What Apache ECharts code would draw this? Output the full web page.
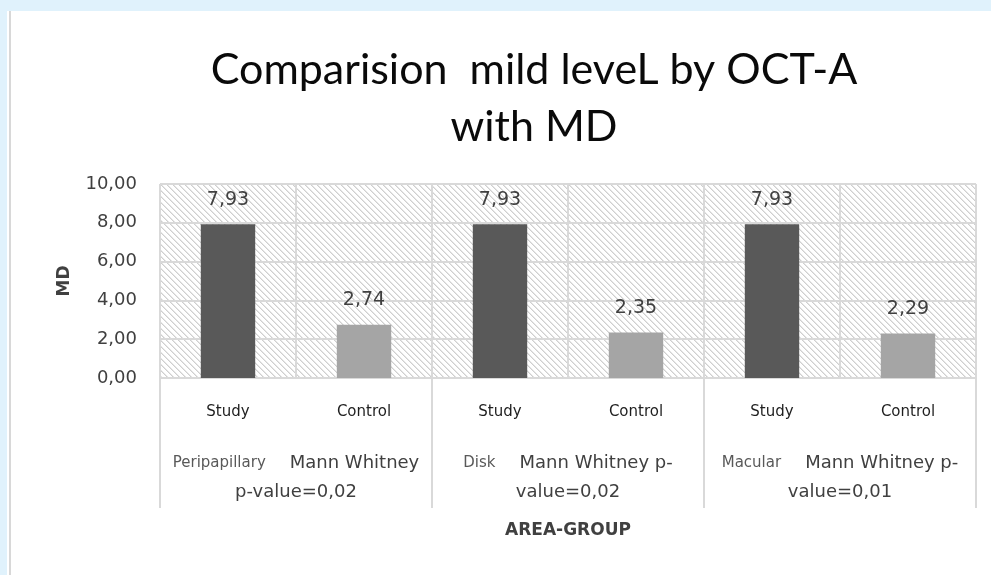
<!DOCTYPE html>
<html>
<head>
<meta charset="utf-8">
<script src="https://cdn.jsdelivr.net/npm/echarts@6/dist/echarts.min.js"></script>
<style>
  html, body { margin: 0; padding: 0; width: 991px; height: 575px; overflow: hidden; background: #e0f2fc; }
  #panel { position: absolute; left: 7px; top: 11px; right: 0; bottom: 0; background: #ffffff; }
  #edge { position: absolute; left: 9px; top: 11px; width: 2px; bottom: 0; background: #d8d8d8; }
  #chart { position: absolute; left: 0; top: 0; width: 991px; height: 575px; }
</style>
</head>
<body>
<div id="panel"></div>
<div id="edge"></div>
<div id="chart"></div>
<script>
// ---- data ----
const groups = ['Peripapillary', 'Disk', 'Macular'];
const subCategories = ['Study', 'Control'];
const studyValues = [7.93, 7.93, 7.93];
const controlValues = [2.74, 2.35, 2.29];
const noteLine1 = ['Mann Whitney', 'Mann Whitney p-', 'Mann Whitney p-'];
const noteLine2 = ['p-value=0,02', 'value=0,02', 'value=0,01'];
const yTicks = [0, 2, 4, 6, 8, 10];

const FONT = '"DejaVu Sans", "Open Sans", sans-serif';
const fmt = v => v.toFixed(2).replace('.', ',');

// categories and bar data built from the arrays above
const categories = [];
const barData = [];
groups.forEach((g, i) => {
  categories.push(subCategories[0]);
  barData.push({ value: studyValues[i], itemStyle: { color: '#595959' } });
  categories.push(subCategories[1]);
  barData.push({ value: controlValues[i], itemStyle: { color: '#a5a5a5' } });
});

// hatch pattern for plot background
const pat = document.createElement('canvas');
pat.width = 6; pat.height = 6;
const pc = pat.getContext('2d');
pc.fillStyle = '#ffffff';
pc.fillRect(0, 0, 6, 6);
for (let i = 0; i < 6; i++) {
  pc.fillStyle = '#cfcfcf';
  pc.fillRect(i, i, 1, 1);
  pc.fillStyle = '#e6e6e6';
  pc.fillRect((i + 1) % 6, i, 1, 1);
}

const chart = echarts.init(document.getElementById('chart'), null, { renderer: 'canvas' });
chart.setOption({
  backgroundColor: 'transparent',
  animation: false,
  title: {
    text: 'Comparision  mild leveL by OCT-A\nwith MD',
    left: 529,
    textAlign: 'center',
    top: 37,
    textStyle: { fontFamily: 'Lato, "Open Sans", sans-serif', fontSize: 43, fontWeight: 'normal', color: '#0a0a0a', lineHeight: 57 }
  },
  grid: {
    left: 160, right: 15, top: 184, bottom: 197,
    show: true,
    borderWidth: 0,
    backgroundColor: { image: pat, repeat: 'repeat' }
  },
  xAxis: [
    {
      type: 'category',
      data: categories,
      position: 'bottom',
      axisLine: { show: true, lineStyle: { color: '#d9d9d9', width: 2 } },
      axisTick: { show: false },
      splitLine: { show: true, interval: 0, lineStyle: { color: '#d9d9d9', width: 2 } },
      axisLabel: { interval: 0, margin: 27, fontFamily: FONT, fontSize: 15, color: '#1e1e1e' }
    },
    {
      type: 'category',
      data: groups,
      position: 'bottom',
      axisLine: { show: false },
      axisTick: { show: true, interval: 0, length: 130, lineStyle: { color: '#d9d9d9', width: 2 } },
      splitLine: { show: false },
      name: 'AREA-GROUP',
      nameLocation: 'middle',
      nameGap: 144,
      nameTextStyle: { fontFamily: FONT, fontSize: 17, fontWeight: 'bold', color: '#404040' },
      axisLabel: {
        interval: 0,
        margin: 71,
        align: 'center',
        formatter: (v, i) => '{g|' + v + '}{n|' + noteLine1[i] + '}\n{n|' + noteLine2[i] + '}',
        rich: {
          g: { fontFamily: FONT, fontSize: 15, color: '#595959', lineHeight: 29, backgroundColor: '#ffffff', padding: [0, 24, 0, 0] },
          n: { fontFamily: FONT, fontSize: 18, color: '#404040', lineHeight: 29 }
        }
      }
    }
  ],
  yAxis: {
    type: 'value',
    min: yTicks[0],
    max: yTicks[yTicks.length - 1],
    interval: yTicks[1] - yTicks[0],
    name: 'MD',
    nameLocation: 'middle',
    nameGap: 87,
    nameTextStyle: { fontFamily: FONT, fontSize: 17, fontWeight: 'bold', color: '#404040' },
    axisLine: { show: false },
    axisTick: { show: false },
    splitLine: { show: true, lineStyle: { color: '#d9d9d9', width: 2 } },
    axisLabel: { margin: 23, fontFamily: FONT, fontSize: 18, color: '#404040', formatter: v => fmt(v) }
  },
  series: [{
    type: 'bar',
    xAxisIndex: 0,
    data: barData,
    barWidth: '40%',
    label: {
      show: true,
      position: 'top',
      distance: 15,
      fontFamily: FONT,
      fontSize: 19,
      color: '#404040',
      formatter: p => fmt(p.value)
    }
  }]
});
</script>
</body>
</html>
